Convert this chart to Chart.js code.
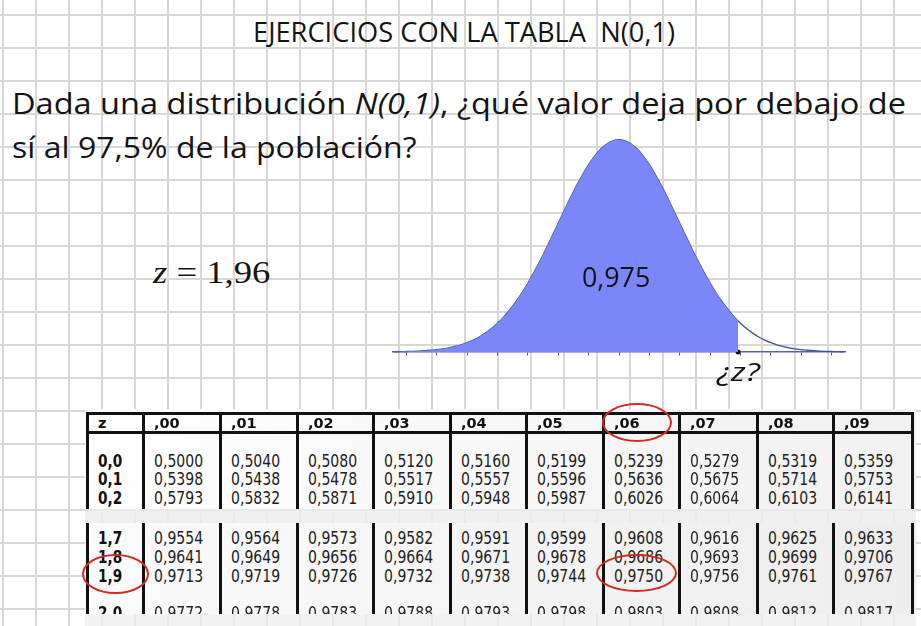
<!DOCTYPE html>
<html><head><meta charset="utf-8">
<script src="https://cdn.jsdelivr.net/npm/chart.js@4.4.0/dist/chart.umd.min.js"></script>
<style>
html,body{margin:0;padding:0;}
body{width:921px;height:626px;overflow:hidden;position:relative;background-color:#fff;
background-image:linear-gradient(to right,#d7d7d7 2px,transparent 2px),linear-gradient(to bottom,#d7d7d7 2px,transparent 2px);
background-size:33px 33px;background-position:2px 14px;}
.t{position:absolute;white-space:nowrap;transform-origin:0 0;color:#141414;line-height:1.2;}
.sans{font-family:"Open Sans",sans-serif;}
.cell{font-family:"DejaVu Sans",sans-serif;font-size:18px;color:#222;}
.head{font-family:"DejaVu Sans",sans-serif;font-size:14.5px;font-weight:bold;color:#111;}
.b{font-weight:bold;color:#111;}
.ln{position:absolute;background:#111;}
.ell{position:absolute;border:2.5px solid #d42a20;border-radius:50%;box-sizing:border-box;}
.panel{position:absolute;}
#chartBox{position:absolute;left:380px;top:120px;width:480px;height:260px;}
</style>
</head><body>
<div class="t sans" id="title" style="font-size:27px">EJERCICIOS CON LA TABLA&nbsp; N(0,1)</div>
<div class="t sans" id="q1" style="font-size:29.5px">Dada una distribución <i>N(0,1)</i>, ¿qué valor deja por debajo de</div>
<div class="t sans" id="q2" style="font-size:29.5px">sí al 97,5% de la población?</div>
<div class="t" id="zeq" style="font-family:'Liberation Serif',serif;font-size:32px"><i>z</i> = 1,96</div>

<div id="chartBox"><canvas id="c" width="480" height="260"></canvas></div>
<div class="t sans" id="lab" style="font-size:28px">0,975</div>
<div class="t sans" id="zq" style="font-size:26px"><i>¿z?</i></div>

<div id="table"></div>

<script>
// ---- data ----
const zPoints = [-3.7,-3.6,-3.5,-3.4,-3.3,-3.2,-3.1,-3.0,-2.9,-2.8,-2.7,-2.6,-2.5,-2.4,-2.3,-2.2,-2.1,-2.0,-1.9,-1.8,-1.7,-1.6,-1.5,-1.4,-1.3,-1.2,-1.1,-1.0,-0.9,-0.8,-0.7,-0.6,-0.5,-0.4,-0.3,-0.2,-0.1,0.0,0.1,0.2,0.3,0.4,0.5,0.6,0.7,0.8,0.9,1.0,1.1,1.2,1.3,1.4,1.5,1.6,1.7,1.8,1.9,2.0,2.1,2.2,2.3,2.4,2.5,2.6,2.7,2.8,2.9,3.0,3.1,3.2,3.3,3.4,3.5,3.6,3.7];
const density = [0.0004,0.0006,0.0009,0.0012,0.0017,0.0024,0.0033,0.0044,0.0060,0.0079,0.0104,0.0136,0.0175,0.0224,0.0283,0.0355,0.0440,0.0540,0.0656,0.0790,0.0940,0.1109,0.1295,0.1497,0.1714,0.1942,0.2179,0.2420,0.2661,0.2897,0.3123,0.3332,0.3521,0.3683,0.3814,0.3910,0.3970,0.3989,0.3970,0.3910,0.3814,0.3683,0.3521,0.3332,0.3123,0.2897,0.2661,0.2420,0.2179,0.1942,0.1714,0.1497,0.1295,0.1109,0.0940,0.0790,0.0656,0.0540,0.0440,0.0355,0.0283,0.0224,0.0175,0.0136,0.0104,0.0079,0.0060,0.0044,0.0033,0.0024,0.0017,0.0012,0.0009,0.0006,0.0004];
const zCut = 1.96;
const densityAtCut = 0.0584;

const colHeads = [",00",",01",",02",",03",",04",",05",",06",",07",",08",",09"];
const rowsTop = ["0,0","0,1","0,2"];
const valsTop = [
 ["0,5000","0,5040","0,5080","0,5120","0,5160","0,5199","0,5239","0,5279","0,5319","0,5359"],
 ["0,5398","0,5438","0,5478","0,5517","0,5557","0,5596","0,5636","0,5675","0,5714","0,5753"],
 ["0,5793","0,5832","0,5871","0,5910","0,5948","0,5987","0,6026","0,6064","0,6103","0,6141"]];
const rowsBottom = ["1,7","1,8","1,9"];
const valsBottom = [
 ["0,9554","0,9564","0,9573","0,9582","0,9591","0,9599","0,9608","0,9616","0,9625","0,9633"],
 ["0,9641","0,9649","0,9656","0,9664","0,9671","0,9678","0,9686","0,9693","0,9699","0,9706"],
 ["0,9713","0,9719","0,9726","0,9732","0,9738","0,9744","0,9750","0,9756","0,9761","0,9767"]];
const rowsCut = ["2,0"];
const valsCut = [["0,9772","0,9778","0,9783","0,9788","0,9793","0,9798","0,9803","0,9808","0,9812","0,9817"]];

// ---- text placement helper ----
function place(el, left, baseline, width, sx){
  const probe=document.createElement('span');
  probe.style.cssText='display:inline-block;width:0;height:0;vertical-align:baseline';
  el.appendChild(probe);
  const b=probe.offsetTop;
  el.removeChild(probe);
  el.style.left=left+'px';
  el.style.top=(baseline-b)+'px';
  if(width){ const w=el.offsetWidth; el.style.transform='scaleX('+(width/w)+')'; }
  else if(sx){ el.style.transform='scaleX('+sx+')'; }
}
place(document.getElementById('title'),253,42,422);
place(document.getElementById('q1'),12,114,894);
place(document.getElementById('q2'),12,158,405);
place(document.getElementById('zeq'),153,283,118);
place(document.getElementById('lab'),582,287,68);
place(document.getElementById('zq'),717,381,43);

// ---- table ----
const tbl=document.getElementById('table');
const colX=[87,143,220,297,373,450,526,603,679,757,833,912];
function div(cls,css,html){const d=document.createElement('div');d.className=cls;d.style.cssText=css;if(html!==undefined)d.innerHTML=html;tbl.appendChild(d);return d;}
div('panel','left:85px;top:409px;width:831px;height:100px;background:linear-gradient(to right,#fefefe,#f1f1f1)');
div('panel','left:85px;top:509px;width:831px;height:14px;background:rgba(236,236,236,0.85)');
div('panel','left:85px;top:523px;width:831px;height:91px;background:linear-gradient(to right,#fbfbfb,#ededed)');
div('panel','left:85px;top:614px;width:831px;height:12px;background:rgba(238,238,238,0.75)');
// borders
div('ln','left:87px;top:412px;width:827px;height:3px');
div('ln','left:87px;top:431px;width:827px;height:3px');
colX.forEach(x=>{
  div('ln','left:'+(x-1)+'px;top:412px;width:3px;height:97px');
  div('ln','left:'+(x-1)+'px;top:523px;width:3px;height:91px');
});
function cellText(txt,left,baseline,bold){
  const d=div('t cell'+(bold?' b':''),'',txt);
  place(d,left,baseline,null,bold?0.76:0.78);
  return d;
}
function headText(txt,left,baseline){
  const d=div('t head','',txt);
  place(d,left,baseline);
}
headText('z',colX[0]+11,427.5);
colHeads.forEach((h,i)=>headText(h,colX[i+1]+11,427.5));
const topBase=[467,485,504];
rowsTop.forEach((r,j)=>{cellText(r,colX[0]+11,topBase[j],true);valsTop[j].forEach((v,i)=>cellText(v,colX[i+1]+11,topBase[j],false));});
const botBase=[544,563,582];
rowsBottom.forEach((r,j)=>{cellText(r,colX[0]+11,botBase[j],true);valsBottom[j].forEach((v,i)=>cellText(v,colX[i+1]+11,botBase[j],false));});
// clipped last row
const clip=div('panel','left:85px;top:595px;width:831px;height:19px;overflow:hidden');
function clipText(txt,left,baseline,bold){
  const d=document.createElement('div');d.className='t cell'+(bold?' b':'');d.innerHTML=txt;clip.appendChild(d);
  place(d,left-85,baseline-595,null,bold?0.76:0.78);
}
rowsCut.forEach((r,j)=>{clipText(r,colX[0]+11,619,true);valsCut[j].forEach((v,i)=>clipText(v,colX[i+1]+11,619,false));});
// red circles
div('ell','left:602px;top:403px;width:70px;height:39px');
div('ell','left:596px;top:554px;width:81px;height:38px');
div('ell','left:82px;top:554px;width:67px;height:40px');

// ---- chart ----
const curve=zPoints.map((z,i)=>({x:z,y:density[i]}));
const shaded=curve.filter(p=>p.x<zCut).concat([{x:zCut,y:densityAtCut}]);
new Chart(document.getElementById('c'),{
  type:'line',
  data:{datasets:[
    {data:shaded,fill:'origin',backgroundColor:'rgb(123,135,248)',borderWidth:0,pointRadius:0,cubicInterpolationMode:'monotone',clip:false},
    {data:curve,fill:false,borderColor:'#3f4ea6',borderWidth:1.3,pointRadius:0,cubicInterpolationMode:'monotone',clip:false},
    {type:'scatter',data:[{x:zCut,y:0}],pointRadius:2.5,pointBackgroundColor:'#111',pointBorderWidth:0,clip:false}
  ]},
  options:{
    responsive:false,animation:false,
    layout:{padding:{left:13,right:15,top:0,bottom:28}},
    plugins:{legend:{display:false},tooltip:{enabled:false}},
    scales:{
      x:{type:'linear',min:-3.72,max:3.72,position:{y:0},
         ticks:{display:false,stepSize:0.5,includeBounds:false},
         grid:{drawOnChartArea:false,drawTicks:true,tickLength:3,color:'#555c80'},
         border:{display:true,color:'#5563a8',width:1.5}},
      y:{display:false,min:0,max:0.4285}
    }
  }
});
</script>
</body></html>
